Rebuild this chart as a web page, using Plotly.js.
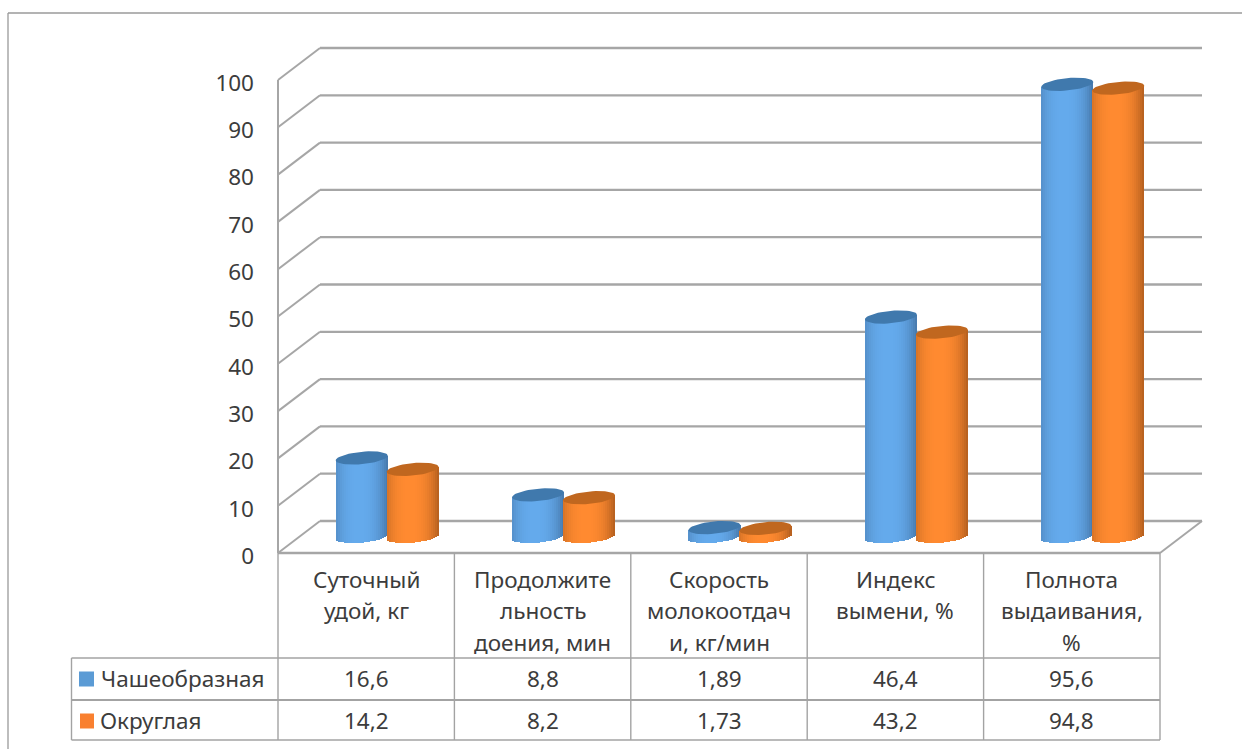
<!DOCTYPE html>
<html>
<head>
<meta charset="utf-8">
<script src="https://cdn.plot.ly/plotly-3.0.1.min.js"></script>
<style>html,body{margin:0;padding:0;background:#fff}#chart{width:1242px;height:749px}</style>
</head>
<body>
<div id="chart"></div>
<script>
// Milk-yield indicators of cows by udder shape
const categoryLines = [
  ["Суточный", "удой, кг"],
  ["Продолжите", "льность", "доения, мин"],
  ["Скорость", "молокоотдач", "и, кг/мин"],
  ["Индекс", "вымени, %"],
  ["Полнота", "выдаивания,", "%"]
];
const seriesNames = ["Чашеобразная", "Округлая"];
const cupShaped = [16.6, 8.8, 1.89, 46.4, 95.6];
const rounded = [14.2, 8.2, 1.73, 43.2, 94.8];
const yTicks = [0, 10, 20, 30, 40, 50, 60, 70, 80, 90, 100];

// Scales: one category = 176.4 px, one value unit = 4.73 px
const W = 1242, H = 749, X0 = 278, Y0 = 553, PX_X = 176.4, PX_Y = 4.73;
const fx = px => (px - X0) / PX_X;
const fy = py => (Y0 - py) / PX_Y;
const DEPTH_X = 42 / PX_X, DEPTH_Y = 32 / PX_Y;     // oblique offset of the back wall
const COUNT = categoryLines.length;

const GRID = "#a6a6a6", TABLE = "#a3a3a3", TEXT = "#3c3c3c";
const FONT = "'Noto Sans', sans-serif";

const shapes = [];
const seg = (x0, y0, x1, y1, color, width) => shapes.push({
  type: "line", xref: "x", yref: "y", x0, y0, x1, y1, layer: "below",
  line: {color, width}
});

// Sheet frame
seg(fx(8), fy(13), fx(8), fy(749), "#bdbdbd", 2);
seg(fx(8), fy(13), fx(1242), fy(13), "#9a9a9a", 1.5);

// Walls and floor of the pseudo-3D box
yTicks.forEach(v => {
  seg(0, v, DEPTH_X, v + DEPTH_Y, GRID, 2);
  seg(DEPTH_X, v + DEPTH_Y, COUNT + DEPTH_X, v + DEPTH_Y, GRID, 2.3);
});
seg(0, 0, 0, 100, GRID, 2);
seg(0, 0, COUNT, 0, GRID, 2.3);
seg(COUNT, 0, COUNT + DEPTH_X, DEPTH_Y, GRID, 2);

// Data table grid
const rowTop = fy(658), rowMid = fy(700), rowBottom = fy(740), tableLeft = fx(71.5);
for (let i = 0; i <= COUNT; i++) seg(i, 0, i, rowBottom, TABLE, 1.4);
seg(tableLeft, rowTop, COUNT, rowTop, TABLE, 1.4);
seg(tableLeft, rowMid, COUNT, rowMid, TABLE, 1.8);
seg(tableLeft, rowBottom, COUNT, rowBottom, TABLE, 1.4);
seg(tableLeft, rowTop, tableLeft, rowBottom, TABLE, 1.4);

// Cylinder geometry
const SLICES = 26;
const HALF = 26;            // half width, px
const MINOR = 6.2 / PX_Y;   // half height of the ellipse along a vertical, value units
const TILT = 2.4 / PX_Y;    // rise of the ellipse axis at its right end
const halfW = HALF / PX_X;
const SLICE_W = 2 * halfW / SLICES * 1.05;
const baseLevel = DEPTH_Y / 2 + 0.5 / PX_Y;
const centre = (i, s) => i + 0.5 + DEPTH_X / 2 + (s === 0 ? -1 : 1) * halfW * 0.98;

const palettes = [
  {edge: [70, 120, 170], mid: [100, 170, 236], cap: "#4079ad", swatch: "#5b9bd5"},
  {edge: [178, 94, 30], mid: [255, 138, 48], cap: "#c0671f", swatch: "#f98030"}
];
const shade = (p, u) => {
  const k = Math.min(1, Math.pow(Math.abs(u + 0.12) / 1.12, 2.6));
  const c = p.mid.map((m, j) => Math.round(m + (p.edge[j] - m) * k));
  return `rgb(${c.join(",")})`;
};

const bodies = [], feet = [], caps = [];
[cupShaped, rounded].forEach((values, s) => {
  const p = palettes[s];
  const body = {x: [], y: [], base: [], color: []};
  const foot = {x: [], y: [], base: [], color: []};
  values.forEach((v, i) => {
    const c = centre(i, s);
    for (let n = 0; n < SLICES; n++) {
      const u = -1 + (2 * n + 1) / SLICES;
      const skew = TILT * u;
      const arc = MINOR * Math.sqrt(1 - u * u);
      const x = c + u * halfW;
      const col = shade(p, u);
      body.x.push(x); body.y.push(v); body.base.push(baseLevel + skew); body.color.push(col);
      foot.x.push(x); foot.y.push(arc); foot.base.push(baseLevel + skew - arc); foot.color.push(col);
    }
  });
  const mk = (d, name) => ({
    type: "bar", name, x: d.x, y: d.y, base: d.base, width: SLICE_W,
    marker: {color: d.color, line: {width: 0}}, hoverinfo: "skip", showlegend: false
  });
  bodies.push(mk(body, seriesNames[s]));
  feet.push(mk(foot, seriesNames[s] + " (основание)"));

  // Tilted elliptical top of every cylinder
  const cx = [], cy = [];
  values.forEach((v, i) => {
    const c = centre(i, s);
    for (let a = 0; a <= 48; a++) {
      const t = a / 48 * 2 * Math.PI;
      cx.push(c + halfW * Math.cos(t));
      cy.push(v + baseLevel + TILT * Math.cos(t) + MINOR * Math.sin(t));
    }
    cx.push(null); cy.push(null);
  });
  caps.push({
    type: "scatter", mode: "lines", x: cx, y: cy, fill: "toself", fillcolor: p.cap,
    line: {width: 0, color: p.cap}, hoverinfo: "skip", showlegend: false
  });
});

// Texts
const annotations = [];
const label = (x, y, text, anchor) => annotations.push({
  xref: "x", yref: "y", x, y, text, showarrow: false, xanchor: anchor || "center", yanchor: "middle",
  font: {family: FONT, size: 22.5, color: TEXT}
});
const LINE_CENTRES = [579, 610.5, 642];
categoryLines.forEach((lines, i) => {
  lines.forEach((t, k) => label(i + 0.5, fy(LINE_CENTRES[k]), t));
});
const fmt = v => String(v).replace(".", ",");
const rowY = [fy(678), fy(720)];
const swatchY = [fy(679), fy(721)];
[cupShaped, rounded].forEach((values, s) => {
  values.forEach((v, i) => label(i + 0.5, rowY[s], fmt(v)));
  label(fx(s === 0 ? 99 : 98), rowY[s], seriesNames[s], "left");
  shapes.push({
    type: "rect", xref: "x", yref: "y", layer: "above",
    x0: fx(s === 0 ? 79 : 80), x1: fx(94), y0: swatchY[s] - 7.5 / PX_Y, y1: swatchY[s] + 7.5 / PX_Y,
    fillcolor: palettes[s].swatch, line: {width: 0}
  });
});

const layout = {
  width: W, height: H,
  margin: {l: 0, r: 0, t: 0, b: 0, pad: 0},
  paper_bgcolor: "#ffffff", plot_bgcolor: "#ffffff",
  showlegend: false, barmode: "overlay", bargap: 0,
  xaxis: {range: [fx(0), fx(W)], visible: false, fixedrange: true},
  yaxis: {
    range: [fy(H), fy(0)], anchor: "free", position: X0 / W,
    tickmode: "array", tickvals: yTicks, ticktext: yTicks.map(String),
    ticks: "", ticklabelstandoff: 24, ticklabelshift: 3, showgrid: false, zeroline: false, showline: false,
    tickfont: {family: FONT, size: 22.5, color: TEXT}, fixedrange: true
  },
  shapes, annotations
};

Plotly.newPlot("chart", [bodies[0], feet[0], bodies[1], feet[1], caps[0], caps[1]], layout,
  {displayModeBar: false, staticPlot: true});
</script>
</body>
</html>
